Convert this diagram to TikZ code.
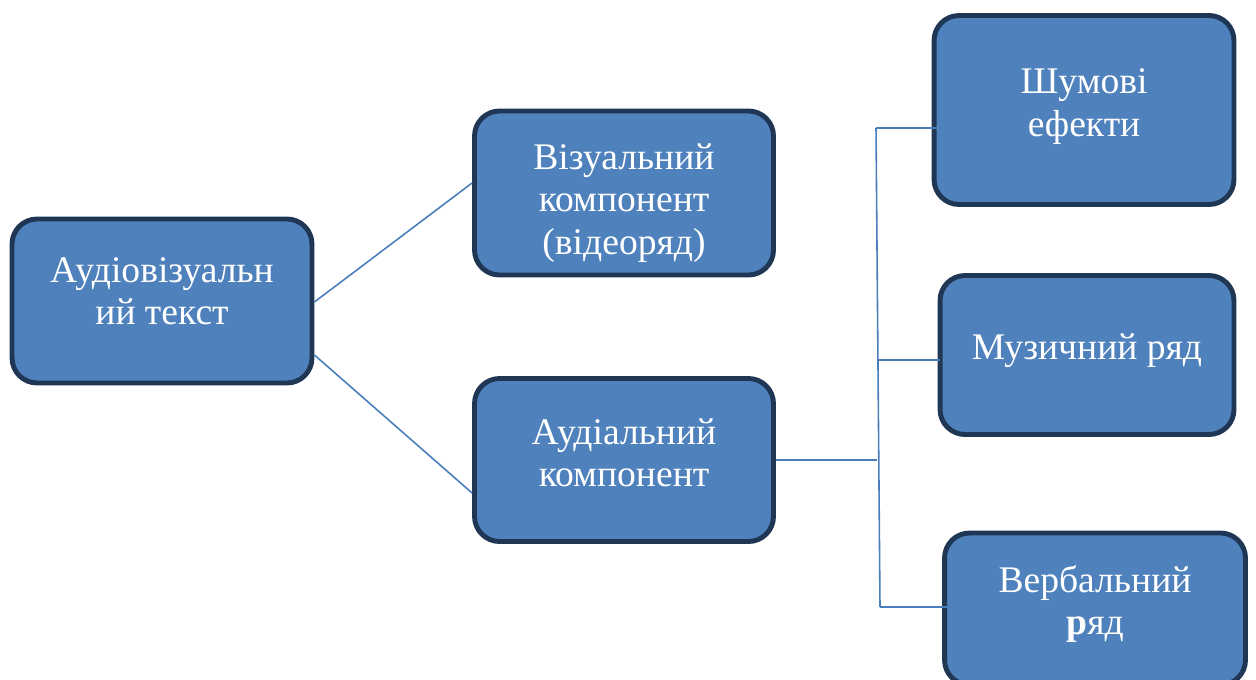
\documentclass[tikz,border=0pt]{standalone}
\usepackage{fontspec}
\setmainfont{Liberation Serif}
\usetikzlibrary{calc}
\definecolor{boxblue}{HTML}{4F81BD}
\definecolor{boxedge}{HTML}{1F3655}
\definecolor{linkblue}{HTML}{4A7EBB}
\newcommand\lifted[2]{\raisebox{#1}[\height][\depth]{\begin{tabular}{@{}c@{}}#2\end{tabular}}}
\tikzset{
  compbox/.style={draw=boxedge,fill=boxblue,line width=2.8pt,rounded corners=0.5cm,
    text=white,align=center,font=\fontsize{21.4}{24}\selectfont,inner sep=0pt},
  link/.style={draw=linkblue,line width=0.9pt}
}
\begin{document}
\begin{tikzpicture}[x=0.02cm,y=-0.02cm]
   \useasboundingbox (0,0) rectangle (1256,679);
   \node[compbox,minimum width=6cm,minimum height=3.28cm] (av) at (162,301) {\lifted{3.4pt}{Аудіовізуальн\\ий текст}};
   \node[compbox,minimum width=5.98cm,minimum height=3.28cm] (vis) at (624,193) {\lifted{-6pt}{Візуальний\\компонент\\(відеоряд)}};
   \node[compbox,minimum width=5.98cm,minimum height=3.26cm] (aud) at (624,460) {\lifted{1.7pt}{Аудіальний\\компонент}};
   \node[compbox,minimum width=6cm,minimum height=3.78cm] (noise) at (1084,110) {\lifted{2pt}{Шумові\\ефекти}};
   \node[compbox,minimum width=5.88cm,minimum height=3.18cm] (music) at (1087,355) {\lifted{2.3pt}{Музичний ряд}};
   \node[compbox,minimum width=6.02cm,minimum height=3.04cm] (verb) at (1095,609) {\lifted{2.3pt}{Вербальний\\{\bfseries р}яд}};
   \coordinate (jt) at (876,128);
   \coordinate (jm) at (877,360);
   \coordinate (ja) at (877,460);
   \coordinate (jb) at (880,607);
   \draw[link] ($(av.east)+(0,1)$) -- ($(vis.west)+(0,-10)$);
   \draw[link] ($(av.east)+(0,54)$) -- ($(aud.west)+(0,33)$);
   \draw[link] (aud.east) -- (ja);
   \draw[link] (jt) -- (jb);
   \draw[link] (jt) -- ($(jt -| noise.west)+(6,0)$);
   \draw[link] (jm) -- ($(jm -| music.west)+(2,0)$);
   \draw[link] (jb) -- ($(jb -| verb.west)+(12,0)$);
\end{tikzpicture}
\end{document}
